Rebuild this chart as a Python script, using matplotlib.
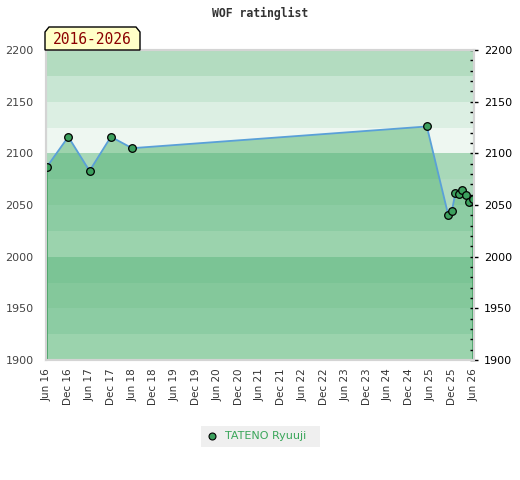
import matplotlib
matplotlib.use("Agg")
import matplotlib.pyplot as plt
import matplotlib.dates as mdates
import numpy as np
from matplotlib.patches import Polygon, Rectangle
from matplotlib.lines import Line2D
from matplotlib.ticker import MultipleLocator
from datetime import date

# rating history
dates = [date(2016, 6, 1), date(2016, 12, 1), date(2017, 6, 1), date(2017, 12, 1),
         date(2018, 6, 1), date(2025, 5, 1), date(2025, 11, 1), date(2025, 12, 1),
         date(2026, 1, 1), date(2026, 2, 1), date(2026, 3, 1), date(2026, 4, 1),
         date(2026, 5, 1), date(2026, 6, 1)]
ratings = [2087, 2116, 2083, 2116, 2105, 2126, 2040, 2044,
           2062, 2061, 2065, 2060, 2053, 2056]

player = "TATENO Ryuuji"
title = "WOF ratinglist"
period = "2016-2026"

# background bands: low edge, colour above the line, colour under the line
band_lo = [1900, 1925, 1950, 1975, 2000, 2025, 2050, 2075, 2100, 2125, 2150, 2175]
band_bg = ["#c4e4cf", "#b6ddc3", "#b0dabf", "#a8d8b8", "#c4e4cf", "#b6ddc3",
           "#b0dabf", "#a8d8b8", "#eef7f1", "#dcefe3", "#c8e6d3", "#b3dcc0"]
band_fill = ["#9bd3ad", "#8ccca3", "#84c89b", "#7bc495", "#9bd3ad", "#8ccca3",
             "#84c89b", "#7bc495", "#9dd3ac", "#a9d9b8", "#b0dcbe", "#a0d4b0"]

W, H = 520, 480
fig = plt.figure(figsize=(W / 100, H / 100), dpi=100)
ax = fig.add_axes([46 / W, 1 - 360 / H, 428 / W, 310 / H])

x = mdates.date2num(dates)
y = np.array(ratings, dtype=float)

# area under the line, used as clip for the darker band colours
area = ax.fill_between(x, y, 1900, color="none", lw=0)

for lo, bg, fc in zip(band_lo, band_bg, band_fill):
    ax.axhspan(lo, lo + 25, color=bg, lw=0, zorder=0)
    span = ax.axhspan(lo, lo + 25, color=fc, lw=0, zorder=1)
    span.set_clip_path(area.get_paths()[0], ax.transData)

ax.vlines([x[0], x[-1] - 1], 1900, [y[0], y[-1]], color="#3c9c5c", lw=1.2, zorder=2)
ax.plot(x, y, color="#5aa0d8", lw=1.3, zorder=3)
ax.plot(x, y, ls="none", marker="o", ms=5.5, mfc="#3ca05e", mec="black", mew=0.9, zorder=4)

ax.set_ylim(1900, 2200)
ax.set_xlim(mdates.date2num(date(2016, 5, 24)), mdates.date2num(date(2026, 6, 9)))

ticks = []
for yr in range(2016, 2027):
    ticks.append(date(yr, 6, 1))
    if yr < 2026:
        ticks.append(date(yr, 12, 1))
ax.set_xticks(mdates.date2num(ticks))
ax.set_xticklabels([t.strftime("%b %y") for t in ticks], rotation=90,
                   fontsize=7.5, color="#333333")
ax.tick_params(axis="x", length=0, pad=6)

ax.yaxis.set_major_locator(MultipleLocator(50))
ax.tick_params(axis="y", left=False, length=0, labelsize=8, labelcolor="#444444", pad=9)

ax2 = ax.twinx()
ax2.set_ylim(1900, 2200)
ax2.yaxis.set_major_locator(MultipleLocator(50))
ax2.yaxis.set_minor_locator(MultipleLocator(10))
ax2.tick_params(axis="y", which="major", direction="inout", length=6, width=1,
                labelsize=8, labelcolor="black", pad=4)
ax2.tick_params(axis="y", which="minor", direction="in", length=3, width=1)

for a in (ax, ax2):
    for s in a.spines.values():
        s.set_color("#d4d4d4")
        s.set_linewidth(1.5)

fig.text(260 / W, 1 - 13 / H, title, ha="center", va="center",
         family="DejaVu Sans Mono", weight="bold", fontsize=8.3, color="#333333")

# period tag
px = [45, 45, 49, 136, 140, 140]
py = [50, 32, 27, 27, 32, 50]
fig.patches.append(Polygon([(a / W, 1 - b / H) for a, b in zip(px, py)], closed=True,
                           transform=fig.transFigure, fc="#ffffc8", ec="black", lw=1,
                           zorder=5))
fig.text(92 / W, 1 - 40 / H, period, ha="center", va="center",
         family="DejaVu Sans Mono", fontsize=10.5, color="#8b0000", zorder=6)

# legend
fig.patches.append(Rectangle((201 / W, 1 - 447 / H), 119 / W, 21 / H,
                             transform=fig.transFigure, fc="#efefef", ec="none"))
fig.lines.append(Line2D([212 / W], [1 - 436 / H], transform=fig.transFigure, marker="o",
                        ms=5, mfc="#3ca05e", mec="black", mew=0.8, ls="none"))
fig.text(225 / W, 1 - 436 / H, player, ha="left", va="center",
         fontsize=8, color="#3aa65a")

fig.savefig("out.png", dpi=100)
